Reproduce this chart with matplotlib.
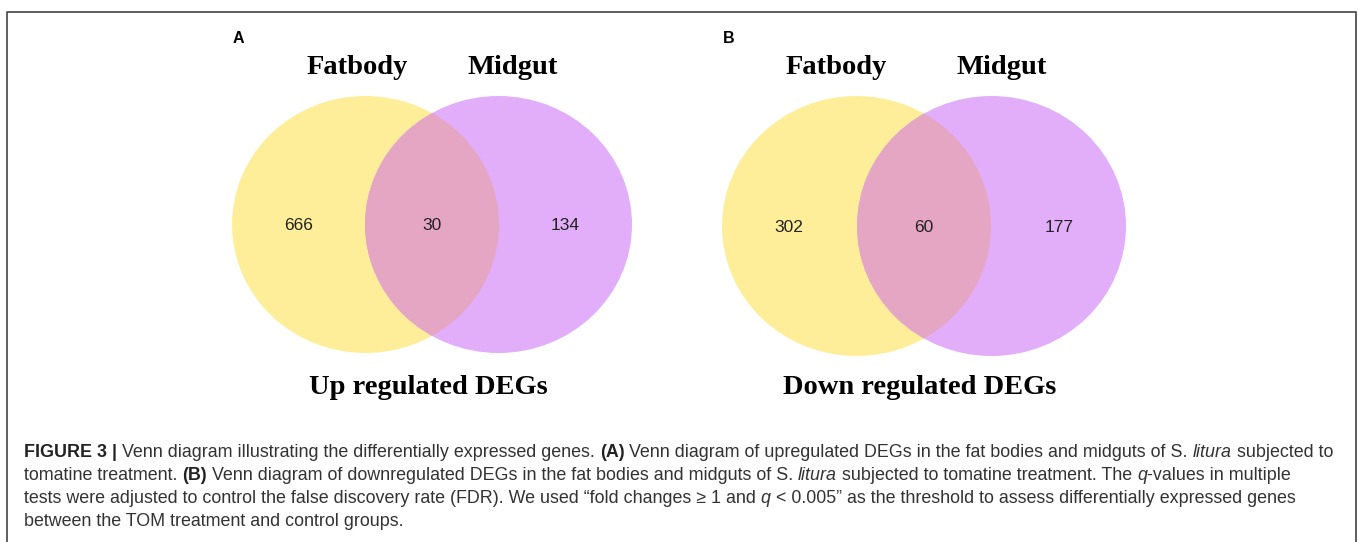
import matplotlib
matplotlib.use("Agg")
import matplotlib.pyplot as plt
from matplotlib.patches import Ellipse

# gene counts: only fatbody, shared, only midgut
up_counts = [666, 30, 134]
down_counts = [302, 60, 177]
set_names = ["Fatbody", "Midgut"]
panel_titles = ["Up regulated DEGs", "Down regulated DEGs"]
panel_letters = ["A", "B"]

YELLOW = "#ffee99"
PURPLE = "#e2aef9"
OVERLAP = "#e4a6c2"

W, H = 1358, 542
fig = plt.figure(figsize=(W / 100, H / 100), dpi=100)
ax = fig.add_axes([0, 0, 1, 1])
ax.set_xlim(0, W)
ax.set_ylim(H, 0)
ax.axis("off")

# frame round the figure, open at the bottom
ax.plot([7, 7, 1356, 1356], [H + 5, 12, 12, H + 5], color="#444444", lw=1.2)


def venn(ax, cx_left, cx_right, cy, w, h, counts, title, letter, title_xs, base_y):
    left = Ellipse((cx_left, cy), w, h, color=YELLOW, lw=0)
    right = Ellipse((cx_right, cy), w, h, color=PURPLE, lw=0)
    mid = Ellipse((cx_right, cy), w, h, color=OVERLAP, lw=0)
    ax.add_patch(left)
    ax.add_patch(right)
    ax.add_patch(mid)
    mid.set_clip_path(left)

    xs = [cx_left - w * 0.25, (cx_left + cx_right) / 2, cx_right + w * 0.25]
    for x, n in zip(xs, counts):
        ax.text(x, base_y, str(n), ha="center", va="baseline", fontsize=12.5,
                family="Liberation Sans", color="#222222")

    for x, name in zip(title_xs, set_names):
        ax.text(x, 74, name, ha="center", va="baseline", fontsize=20.5,
                family="Liberation Serif", fontweight="bold", color="black")
    ax.text((cx_left + cx_right) / 2 - 4, 394, title, ha="center", va="baseline",
            fontsize=20.5, family="Liberation Serif", fontweight="bold", color="black")
    ax.text(cx_left - w / 2 + 1, 43, letter, ha="left", va="baseline", fontsize=11.5,
            family="Liberation Sans", fontweight="bold", color="black")


venn(ax, 365.5, 498.5, 224.5, 267, 257, up_counts, panel_titles[0], panel_letters[0],
     [357, 513], 230)
venn(ax, 856.5, 991.5, 226, 269, 260, down_counts, panel_titles[1], panel_letters[1],
     [836, 1002], 232)

# caption, written run by run so bold and italic pieces can sit inline
caption = [
    [("FIGURE 3 | ", "bold"), ("Venn diagram illustrating the differentially expressed genes. ", "normal"),
     ("(A)", "bold"), (" Venn diagram of upregulated DEGs in the fat bodies and midguts of S. ", "normal"),
     ("litura", "italic"), (" subjected to", "normal")],
    [("tomatine treatment. ", "normal"), ("(B)", "bold"),
     (" Venn diagram of downregulated DEGs in the fat bodies and midguts of S. ", "normal"),
     ("litura", "italic"), (" subjected to tomatine treatment. The ", "normal"), ("q", "italic"),
     ("-values in multiple", "normal")],
    [("tests were adjusted to control the false discovery rate (FDR). We used \u201cfold changes \u2265 1 and ", "normal"),
     ("q", "italic"), (" < 0.005\u201d as the threshold to assess differentially expressed genes", "normal")],
    [("between the TOM treatment and control groups.", "normal")],
]
cap_size = 12.9
cap_color = "#333333"
renderer = fig.canvas.get_renderer()


def text_width(s, **kw):
    t = ax.text(0, 0, s, **kw)
    wd = t.get_window_extent(renderer).width
    t.remove()
    return wd


space_w = text_width("x x", fontsize=cap_size, family="Liberation Sans") - \
    text_width("xx", fontsize=cap_size, family="Liberation Sans")

y = 457
for line in caption:
    x = 24
    for s, style in line:
        kw = dict(fontsize=cap_size, family="Liberation Sans", color=cap_color)
        if style == "bold":
            kw["fontweight"] = "bold"
            kw["color"] = "#222222"
        elif style == "italic":
            kw["fontstyle"] = "italic"
        lead = len(s) - len(s.lstrip(" "))
        trail = len(s) - len(s.rstrip(" "))
        x += lead * space_w
        core = s.strip(" ")
        t = ax.text(x, y, core, ha="left", va="baseline", **kw)
        x += t.get_window_extent(renderer).width + trail * space_w
    y += 23

fig.savefig("out.png", dpi=100)
